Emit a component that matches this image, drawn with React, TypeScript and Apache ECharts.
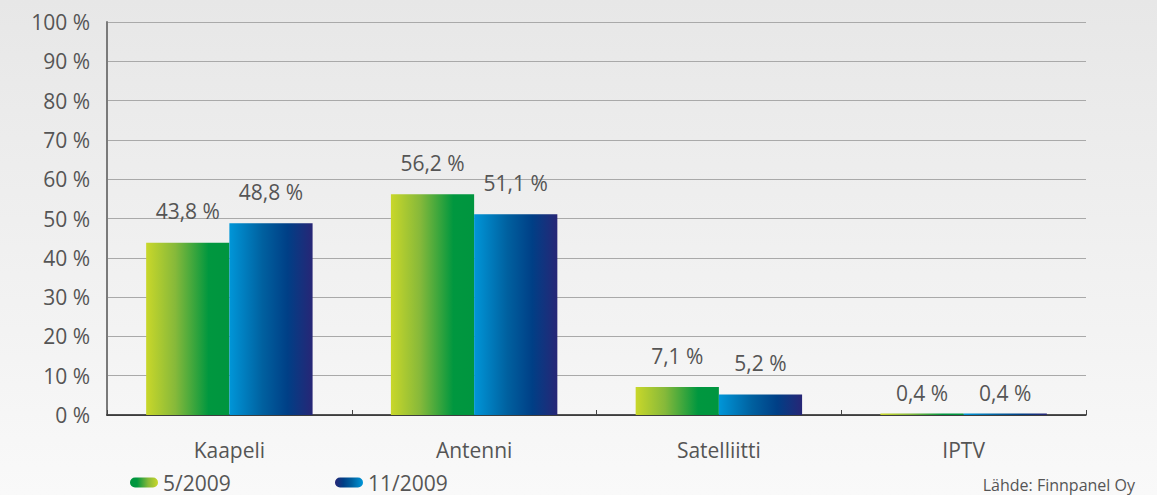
import React, { useEffect, useRef } from "react";
import * as echarts from "echarts";

const categories = ["Kaapeli", "Antenni", "Satelliitti", "IPTV"];
const seriesNames = ["5/2009", "11/2009"];
const values2009May = [43.8, 56.2, 7.1, 0.4];
const values2009Nov = [48.8, 51.1, 5.2, 0.4];
const yTicks = [0, 10, 20, 30, 40, 50, 60, 70, 80, 90, 100];
const sourceText = "Lähde: Finnpanel Oy";

const FONT = "'Open Sans', 'Noto Sans', sans-serif";
const TXT = "#555555";
const FW = 400;

const greenGrad = (rev = false) =>
  new echarts.graphic.LinearGradient(rev ? 1 : 0, 0, rev ? 0 : 1, 0, [
    { offset: 0, color: "#c9d72a" },
    { offset: 0.35, color: "#86b93a" },
    { offset: 0.75, color: "#00973f" },
    { offset: 1, color: "#00953f" },
  ]);
const blueGrad = (rev = false) =>
  new echarts.graphic.LinearGradient(rev ? 1 : 0, 0, rev ? 0 : 1, 0, [
    { offset: 0, color: "#0096d8" },
    { offset: 0.4, color: "#00609f" },
    { offset: 0.7, color: "#003f86" },
    { offset: 1, color: "#272676" },
  ]);

const fmt = (v: number) => v.toFixed(1).replace(".", ",") + " %";

export default function App() {
  const ref = useRef<HTMLDivElement>(null);
  useEffect(() => {
    document.body.style.margin = "0";
    if (!ref.current) return;
    const chart = echarts.init(ref.current, undefined, { renderer: "svg" });
    const mkData = (vals: number[]) =>
      vals.map((v) => ({
        value: v,
        label: { distance: v < 2 ? 10 : 21 },
      }));
    const labelCfg = {
      show: true,
      position: "top",
      color: TXT,
      fontSize: 21,
      fontFamily: FONT,
      fontWeight: FW,
      formatter: (p: any) => fmt(p.value),
    };
    const pill = "path://M5,0 L23,0 A5,5 0 0 1 23,10 L5,10 A5,5 0 0 1 5,0 Z";
    const legendText = { color: TXT, fontSize: 21, lineHeight: 20, fontFamily: FONT, fontWeight: FW };
    chart.setOption({
      animation: false,
      backgroundColor: new echarts.graphic.LinearGradient(0, 0, 0, 1, [
        { offset: 0, color: "#e7e7e7" },
        { offset: 1, color: "#f9f9f9" },
      ]),
      grid: { left: 107, right: 71, top: 22, bottom: 80, containLabel: false },
      legend: [
        {
          left: 130,
          top: 472,
          padding: 0,
          itemWidth: 28,
          itemHeight: 10,
          itemGap: 0,
          icon: pill,
          textStyle: legendText,
          data: [{ name: seriesNames[0], itemStyle: { color: greenGrad(true) } }],
        },
        {
          left: 335,
          top: 472,
          padding: 0,
          itemWidth: 28,
          itemHeight: 10,
          itemGap: 0,
          icon: pill,
          textStyle: legendText,
          data: [{ name: seriesNames[1], itemStyle: { color: blueGrad(true) } }],
        },
      ],
      xAxis: {
        type: "category",
        data: categories,
        axisLine: { lineStyle: { color: "#1a1a1a", width: 1.5 } },
        axisTick: { show: true, inside: true, length: 5, lineStyle: { color: "#444" } },
        axisLabel: { color: TXT, fontSize: 21, fontFamily: FONT, fontWeight: FW, margin: 24 },
      },
      yAxis: {
        type: "value",
        min: yTicks[0],
        max: yTicks[yTicks.length - 1],
        interval: 10,
        axisLine: { show: true, lineStyle: { color: "#7a7a7a", width: 2 } },
        axisTick: { show: false },
        splitLine: { lineStyle: { color: "#a9a9a9", width: 1 } },
        axisLabel: {
          color: TXT,
          fontSize: 21,
          fontFamily: FONT,
          fontWeight: FW,
          margin: 17,
          formatter: (v: number) => v + " %",
        },
      },
      series: [
        {
          name: seriesNames[0],
          type: "bar",
          data: mkData(values2009May),
          barGap: "0%",
          barCategoryGap: "32%",
          itemStyle: { color: greenGrad() },
          label: labelCfg,
        },
        {
          name: seriesNames[1],
          type: "bar",
          data: mkData(values2009Nov),
          barGap: "0%",
          barCategoryGap: "32%",
          itemStyle: { color: blueGrad() },
          label: labelCfg,
        },
      ],
      graphic: [
        {
          type: "text",
          right: 22,
          top: 477,
          style: {
            text: sourceText,
            fill: TXT,
            fontSize: 16,
            lineHeight: 16,
            fontFamily: FONT,
            fontWeight: FW,
          },
        },
      ],
    });
    return () => chart.dispose();
  }, []);
  return <div ref={ref} style={{ width: 1157, height: 495 }} />;
}
